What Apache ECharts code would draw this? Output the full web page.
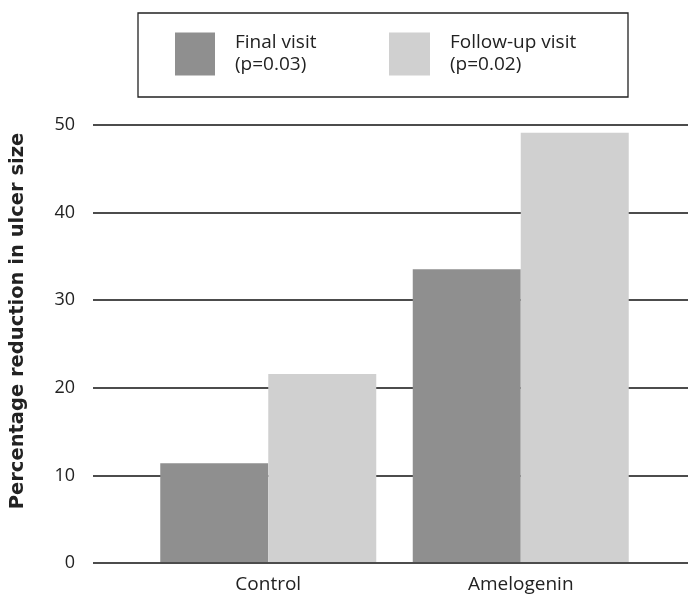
<!DOCTYPE html>
<html>
<head>
<meta charset="utf-8">
<script src="https://cdn.jsdelivr.net/npm/echarts@6/dist/echarts.min.js"></script>
<style>html,body{margin:0;padding:0;background:#fff;}#c{width:688px;height:594px;}</style>
</head>
<body>
<div id="c"></div>
<script>
var categories = ['Control', 'Amelogenin'];
var finalVisit = [11.3, 33.5];
var followUpVisit = [21.5, 49.1];
var seriesNames = ['Final visit\n(p=0.03)', 'Follow-up visit\n(p=0.02)'];
var yTitle = 'Percentage reduction in ulcer size';

var chart = echarts.init(document.getElementById('c'));
var font = '"Open Sans", sans-serif';
var legendText = { fontFamily: font, fontSize: 19, color: '#222', lineHeight: 22, padding: [0, 0, 0, 15] };
chart.setOption({
  animation: false,
  backgroundColor: '#fff',
  legend: [
    { data: [seriesNames[0]], left: 175, top: 32, padding: 0,
      itemWidth: 40, itemHeight: 43, icon: 'rect', textStyle: legendText },
    { data: [seriesNames[1]], left: 389, top: 32, padding: 0,
      itemWidth: 41, itemHeight: 43, icon: 'rect', textStyle: legendText }
  ],
  grid: [
    { left: 93, right: 0, top: 125, bottom: 31 },
    { left: 142, right: 41, top: 125, bottom: 31 }
  ],
  xAxis: [
    { gridIndex: 0, type: 'category', data: categories, show: false },
    { gridIndex: 1, type: 'category', data: categories,
      axisLine: { show: false }, axisTick: { show: false },
      axisLabel: { margin: 13, fontFamily: font, fontSize: 19, color: '#222' } }
  ],
  yAxis: [
    { gridIndex: 0, type: 'value', min: 0, max: 50, interval: 10,
      axisLine: { show: false }, axisTick: { show: false },
      axisLabel: { margin: 18, fontFamily: font, fontSize: 18, color: '#222' },
      splitLine: { lineStyle: { color: '#111', width: 1.5 } } },
    { gridIndex: 1, type: 'value', min: 0, max: 50, interval: 10, show: false,
      splitLine: { show: false } }
  ],
  graphic: [
    { type: 'rect', shape: { x: 138, y: 13, width: 490, height: 84 },
      style: { fill: 'none', stroke: '#222', lineWidth: 1.3 } },
    { type: 'text', x: 18, y: 321, rotation: Math.PI / 2,
      style: { text: yTitle, fontFamily: '"DejaVu Sans", sans-serif', fontWeight: 'bold', fontSize: 19.5, fill: '#222',
        align: 'center', verticalAlign: 'middle' } }
  ],
  series: [
    { name: seriesNames[0], type: 'bar', xAxisIndex: 1, yAxisIndex: 1, data: finalVisit,
      barWidth: 108, barGap: '0%', itemStyle: { color: '#8f8f8f' } },
    { name: seriesNames[1], type: 'bar', xAxisIndex: 1, yAxisIndex: 1, data: followUpVisit,
      barWidth: 108, barGap: '0%', itemStyle: { color: '#d0d0d0' } }
  ]
});
</script>
</body>
</html>
